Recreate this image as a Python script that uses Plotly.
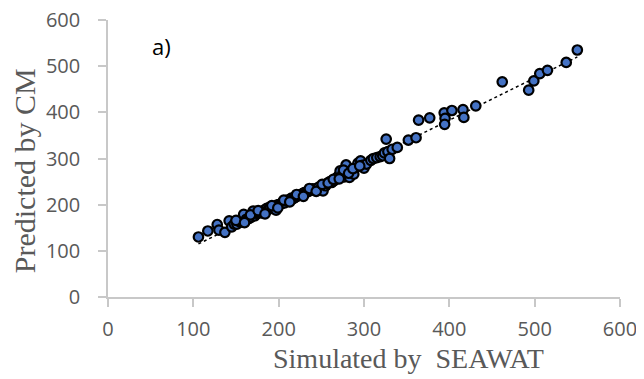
import numpy as np
import plotly.graph_objects as go

# Simulated by SEAWAT (x) vs Predicted by CM (y)
simulated = [106, 117, 128, 130, 137, 142, 145, 148, 151, 155, 157, 159, 162, 165, 168,
             170, 172, 175, 178, 180, 183, 186, 188, 190, 193, 195, 197, 198, 200, 202,
             204, 205, 207, 209, 210, 212, 214, 215, 217, 219, 220, 222, 224, 226, 228,
             230, 231, 233, 235, 237, 240, 242, 245, 247, 250, 252, 255, 257, 260, 262,
             265, 268, 270, 272, 275, 277, 279, 280, 283, 285, 288, 290, 293, 296, 298,
             300, 303, 308, 311, 315, 319, 322, 324, 326, 328, 330, 333, 339, 352, 361,
             364, 377, 394, 395, 394.5, 403, 416, 417, 431, 462, 493, 499, 506, 515, 537, 550,
             150, 160, 167, 176, 184, 192, 199, 206, 213, 221, 229, 236, 244, 251, 258, 264,
             271, 276, 282, 287, 295]
predicted = [130, 143, 157, 145, 140, 165, 152, 158, 158, 162, 163, 179, 168, 170, 173,
             186, 176, 181, 183, 182, 188, 192, 190, 195, 196, 191, 188, 199, 200, 201,
             203, 206, 204, 208, 210, 209, 212, 214, 213, 216, 217, 219, 220, 222, 224,
             226, 225, 228, 229, 231, 234, 233, 235, 238, 236, 230, 241, 246, 250, 248,
             252, 258, 262, 273, 266, 260, 286, 270, 259, 272, 266, 280, 290, 295, 285,
             279, 288, 296, 300, 302, 304, 306, 312, 342, 315, 300, 320, 324, 340, 345,
             383, 388, 399, 387, 374, 404, 406, 389, 414, 466, 448, 468, 484, 491, 508, 535,
             166, 161, 178, 187, 180, 198, 193, 210, 206, 222, 218, 235, 229, 244, 247, 255,
             256, 275, 268, 278, 284]

x_ticks = [0, 100, 200, 300, 400, 500, 600]
y_ticks = [0, 100, 200, 300, 400, 500, 600]

# Linear trendline (least squares over the data)
xs = np.array(simulated, dtype=float)
ys = np.array(predicted, dtype=float)
slope, intercept = np.polyfit(xs, ys, 1)
trend_x = [xs.min(), xs.max()]
trend_y = [slope * v + intercept for v in trend_x]

fig = go.Figure()
fig.add_trace(go.Scatter(
    x=trend_x, y=trend_y, mode="lines",
    line=dict(color="black", width=1.5, dash="dot"),
    showlegend=False, hoverinfo="skip",
))
fig.add_trace(go.Scatter(
    x=simulated, y=predicted, mode="markers",
    marker=dict(size=9.5, color="#4472C4", line=dict(color="black", width=2.2)),
    showlegend=False,
))

axis_common = dict(
    showgrid=False, zeroline=False, showline=True, automargin=False,
    linecolor="#C8C8C8", linewidth=1.5,
    ticks="outside", ticklen=8, tickwidth=1.5, tickcolor="#C8C8C8",
    tickfont=dict(family="Open Sans", size=20, color="#595959"),
    ticklabeloverflow="allow",
    range=[0, 600],
)

fig.update_layout(
    width=636, height=371,
    margin=dict(l=100, r=24, t=12, b=82),
    paper_bgcolor="white", plot_bgcolor="white",
    xaxis=dict(**axis_common, tickvals=x_ticks, ticklabelstandoff=5),
    yaxis=dict(**axis_common, tickvals=y_ticks, ticklabelstandoff=14),
    annotations=[
        dict(text="Simulated by\u00a0\u00a0SEAWAT", xref="paper", yref="paper",
             x=0.586, y=-0.222, xanchor="center", yanchor="middle", showarrow=False,
             font=dict(family="Liberation Serif", size=28, color="#595959")),
        dict(text="Predicted by CM", xref="paper", yref="paper",
             x=-0.163, y=0.456, xanchor="center", yanchor="middle", showarrow=False,
             textangle=-90,
             font=dict(family="Liberation Serif", size=30, color="#595959")),
        dict(text="a)", xref="paper", yref="paper",
             x=0.105, y=0.905, xanchor="center", yanchor="middle", showarrow=False,
             font=dict(family="Open Sans", size=22, color="black")),
    ],
)

fig.write_html("out.html")
